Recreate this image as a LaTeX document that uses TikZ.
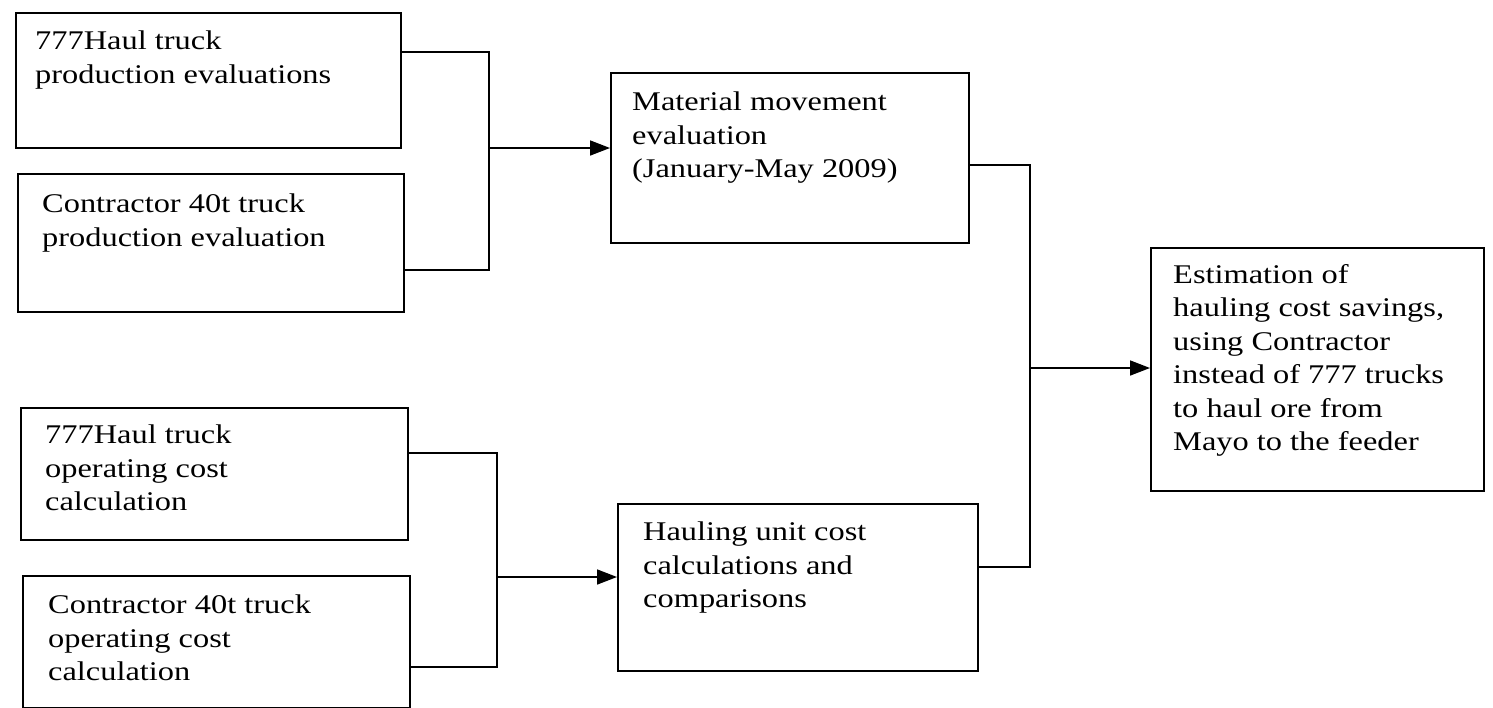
\documentclass[tikz,border=0pt]{standalone}
\usepackage{fontspec}
\setmainfont{Liberation Serif}[FakeStretch=1.2]
\usetikzlibrary{arrows.meta}
\begin{document}
\begin{tikzpicture}[x=1pt,y=-1pt,
  box/.style={draw, line width=1.7pt, inner sep=0pt, anchor=north west},
  txt/.style={anchor=north west, inner sep=0pt, align=left, font=\fontsize{27}{33.5}\selectfont},
  conn/.style={line width=1.7pt},
  arr/.style={line width=1.7pt, -{Triangle[length=20pt,width=15pt]}}]
\useasboundingbox (0,0) rectangle (1493,707);
% boxes
\node[box, minimum width=385pt, minimum height=135pt] (b1) at (15,12) {};
\node[box, minimum width=386pt, minimum height=138pt] (b2) at (17,173) {};
\node[box, minimum width=358pt, minimum height=170pt] (b3) at (610,72) {};
\node[box, minimum width=333pt, minimum height=243pt] (b4) at (1150,247) {};
\node[box, minimum width=387pt, minimum height=132pt] (b5) at (20,407) {};
\node[box, minimum width=387pt, minimum height=132pt] (b6) at (22,575) {};
\node[box, minimum width=360pt, minimum height=167pt] (b7) at (617,503) {};
% texts
\node[txt] (t1) at ([shift={(20,19)}]b1.north west) {777Haul truck\\production evaluations};
\node[txt] (t2) at ([shift={(25,21)}]b2.north west) {Contractor 40t truck\\production evaluation};
\node[txt] (t3) at ([shift={(22,20)}]b3.north west) {Material movement\\evaluation\\(January-May 2009)};
\node[txt] (t4) at ([shift={(23,17)}]b4.north west) {Estimation of\\hauling cost savings,\\using Contractor\\instead of 777 trucks\\to haul ore from\\Mayo to the feeder};
\node[txt] (t5) at ([shift={(25,18)}]b5.north west) {777Haul truck\\operating cost\\calculation};
\node[txt] (t6) at ([shift={(26,20)}]b6.north west) {Contractor 40t truck\\operating cost\\calculation};
\node[txt] (t7) at ([shift={(26,19)}]b7.north west) {Hauling unit cost\\calculations and\\comparisons};
% connector coordinates
\coordinate (ya1) at (0,52);  \coordinate (ya2) at (0,270); \coordinate (ja) at (489,148);
\coordinate (yb1) at (0,165); \coordinate (yb2) at (0,567); \coordinate (jb) at (1030,368);
\coordinate (yc1) at (0,453); \coordinate (yc2) at (0,667); \coordinate (jc) at (497,577);
% connectors
\draw[conn] (b1.east |- ya1) -| (ja) |- (b2.east |- ya2);
\draw[arr] (ja) -- (b3.west |- ja);
\draw[conn] (b3.east |- yb1) -| (jb) |- (b7.east |- yb2);
\draw[arr] (jb) -- (b4.west |- jb);
\draw[conn] (b5.east |- yc1) -| (jc) |- (b6.east |- yc2);
\draw[arr] (jc) -- (b7.west |- jc);
\end{tikzpicture}
\end{document}
